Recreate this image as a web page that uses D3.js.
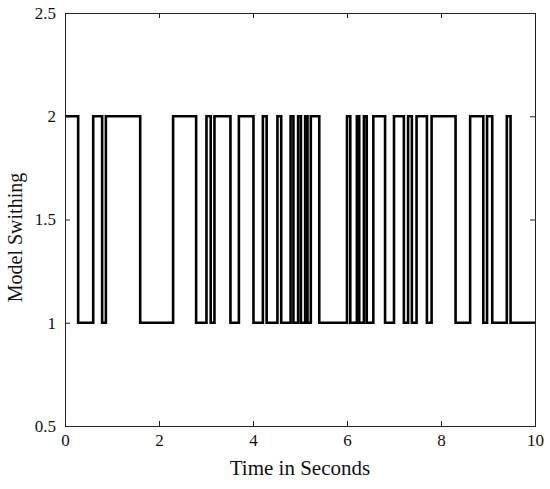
<!DOCTYPE html>
<html>
<head>
<meta charset="utf-8">
<script src="https://cdn.jsdelivr.net/npm/d3@7"></script>
<style>
  body { margin: 0; background: #fff; }
  svg text { font-family: "Liberation Serif", Tinos, "Times New Roman", Times, "DejaVu Serif", serif; fill: #111; }
</style>
</head>
<body>
<div id="chart"></div>
<script>
// switch instants (seconds) and the model active from each instant on
const switchTimes = [0, 0.28, 0.60, 0.79, 0.87, 1.60, 2.30, 2.79, 3.01, 3.10, 3.18,
  3.52, 3.70, 4.01, 4.21, 4.29, 4.52, 4.60, 4.80, 4.86, 4.96, 5.02, 5.11, 5.16,
  5.23, 5.41, 6.00, 6.07, 6.21, 6.26, 6.36, 6.42, 6.56, 6.81, 7.00, 7.21, 7.30,
  7.38, 7.48, 7.70, 7.80, 8.31, 8.62, 8.90, 8.98, 9.09, 9.40, 9.48, 10];
const modelValues = [2, 1, 2, 1, 2, 1, 2, 1, 2, 1, 2,
  1, 2, 1, 2, 1, 2, 1, 2, 1, 2, 1, 2, 1,
  2, 1, 2, 1, 2, 1, 2, 1, 2, 1, 2, 1, 2,
  1, 2, 1, 2, 1, 2, 1, 2, 1, 2, 1, 1];
const xTicks = [0, 2, 4, 6, 8, 10];
const yTicks = [0.5, 1, 1.5, 2, 2.5];

const FONT = '"Liberation Serif", Tinos, "Times New Roman", Times, "DejaVu Serif", serif';
const W = 550, H = 489;
const MARGIN = { TOP: 13, RIGHT: 15, BOTTOM: 63, LEFT: 65 };
const WIDTH = W - MARGIN.LEFT - MARGIN.RIGHT;
const HEIGHT = H - MARGIN.TOP - MARGIN.BOTTOM;

const svg = d3.select("#chart").append("svg")
    .attr("width", W)
    .attr("height", H)
    .attr("font-family", FONT);

const g = svg.append("g")
    .attr("transform", `translate(${MARGIN.LEFT}, ${MARGIN.TOP})`);

const x = d3.scaleLinear().domain([0, 10]).range([0, WIDTH]);
const y = d3.scaleLinear().domain([0.5, 2.5]).range([HEIGHT, 0]);

const data = switchTimes.map((t, i) => ({ t: t, v: modelValues[i] }));

const line = d3.line()
    .x(d => x(d.t))
    .y(d => y(d.v))
    .curve(d3.curveStepAfter);

g.append("path")
    .datum(data)
    .attr("d", line)
    .attr("fill", "none")
    .attr("stroke", "#000")
    .attr("stroke-width", 2.6)
    .attr("stroke-linejoin", "miter");

// axes with inward ticks on all four sides
const tickLen = 5;
const styleAxis = sel => {
  sel.attr("font-family", FONT).attr("font-size", 17);
  sel.select(".domain").remove();
  sel.selectAll(".tick line").attr("stroke", "#222");
  sel.selectAll(".tick text")
    .attr("font-family", FONT)
    .attr("font-size", 17)
    .attr("fill", "#111");
};

g.append("g")
    .attr("transform", `translate(0, ${HEIGHT})`)
    .call(d3.axisBottom(x).tickValues(xTicks).tickSize(-tickLen).tickPadding(8).tickFormat(d3.format("d")))
    .call(styleAxis);

g.append("g")
    .call(d3.axisTop(x).tickValues(xTicks).tickSize(-tickLen).tickFormat(""))
    .call(styleAxis);

g.append("g")
    .call(d3.axisLeft(y).tickValues(yTicks).tickSize(-tickLen).tickPadding(9).tickFormat(d => String(d)))
    .call(styleAxis);

g.append("g")
    .attr("transform", `translate(${WIDTH}, 0)`)
    .call(d3.axisRight(y).tickValues(yTicks).tickSize(-tickLen).tickFormat(""))
    .call(styleAxis);

g.append("rect")
    .attr("x", 0.5)
    .attr("y", 0.5)
    .attr("width", WIDTH)
    .attr("height", HEIGHT)
    .attr("fill", "none")
    .attr("stroke", "#222")
    .attr("stroke-width", 1);

g.append("text")
    .attr("x", WIDTH / 2)
    .attr("y", HEIGHT + 49)
    .attr("text-anchor", "middle")
    .attr("font-size", 21)
    .text("Time in Seconds");

g.append("text")
    .attr("transform", "rotate(-90)")
    .attr("x", -(HEIGHT / 2) - 18)
    .attr("y", -43)
    .attr("text-anchor", "middle")
    .attr("font-size", 20)
    .text("Model Swithing");
</script>
</body>
</html>
